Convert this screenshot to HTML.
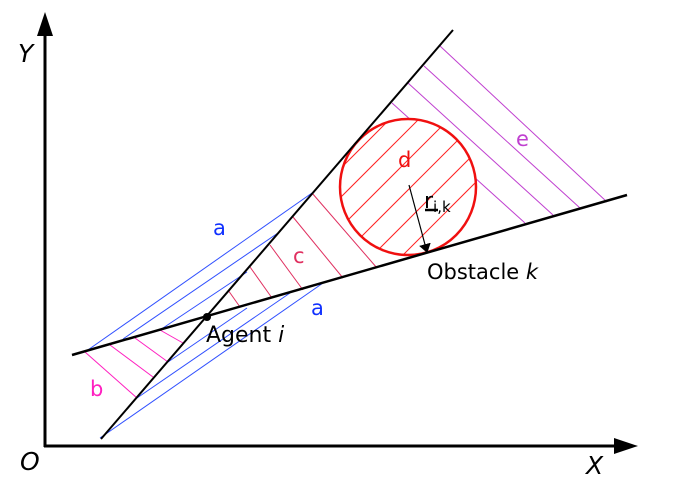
<!DOCTYPE html>
<html><head><meta charset="utf-8"><style>body{margin:0;background:#fff}svg{display:block;font-family:"DejaVu Sans","Liberation Sans",sans-serif}</style></head>
<body>
<svg width="684" height="493" viewBox="0 0 684 493">
<defs>
<clipPath id="cc"><circle cx="408" cy="187" r="68"/></clipPath>
<marker id="ah" markerWidth="10" markerHeight="12" refX="8" refY="6" orient="auto" markerUnits="userSpaceOnUse"><path d="M0,0 L9,6 L0,12 Z" fill="#000"/></marker>
</defs>
<g stroke="#c040d0" stroke-width="1">
<line x1="392" y1="103" x2="525" y2="223"/><line x1="408" y1="83" x2="553" y2="215"/><line x1="424" y1="66" x2="580" y2="208"/><line x1="440" y1="46" x2="607" y2="202"/>
</g>
<g stroke="#3050ff" stroke-width="1">
<line x1="85" y1="352" x2="312" y2="193"/><line x1="123" y1="339" x2="278" y2="233"/><line x1="160" y1="330" x2="247" y2="272"/>
<line x1="100" y1="438" x2="323" y2="283"/><line x1="137" y1="398" x2="290" y2="293"/><line x1="168" y1="362" x2="247" y2="308"/>
</g>
<g stroke="#ff20c0" stroke-width="1">
<line x1="85" y1="352" x2="137" y2="398"/><line x1="110" y1="345" x2="153" y2="377"/><line x1="135" y1="338" x2="168" y2="362"/><line x1="160" y1="330" x2="183" y2="343"/>
</g>
<g stroke="#e03060" stroke-width="1">
<line x1="228" y1="290" x2="240" y2="307"/><line x1="250" y1="267" x2="272" y2="298"/><line x1="270" y1="245" x2="303" y2="290"/><line x1="293" y1="217" x2="343" y2="278"/><line x1="312" y1="193" x2="377" y2="268"/>
</g>
<circle cx="408" cy="187" r="68" fill="#fff"/>
<g clip-path="url(#cc)" stroke="#ff2020" stroke-width="1">
<line x1="300" y1="180" x2="420" y2="60"/><line x1="300" y1="209" x2="445" y2="64"/><line x1="305" y1="233" x2="470" y2="68"/><line x1="318" y1="250" x2="490" y2="78"/><line x1="333" y1="265" x2="508" y2="90"/><line x1="350" y1="278" x2="525" y2="103"/><line x1="368" y1="290" x2="543" y2="115"/>
</g>
<circle cx="408" cy="187" r="68" fill="none" stroke="#f01010" stroke-width="2.5"/>
<line x1="101" y1="439" x2="453" y2="30" stroke="#000" stroke-width="2"/>
<line x1="72" y1="355" x2="627" y2="195" stroke="#000" stroke-width="2.5"/>
<line x1="409" y1="185" x2="427" y2="252" stroke="#000" stroke-width="1.2" marker-end="url(#ah)"/>
<circle cx="207" cy="317" r="4" fill="#000"/>
<line x1="45" y1="447" x2="45" y2="22" stroke="#000" stroke-width="3"/>
<path d="M45,12 L37,36 L53,36 Z" fill="#000"/>
<line x1="44" y1="446" x2="626" y2="446" stroke="#000" stroke-width="3"/>
<path d="M638,446 L614,438 L614,454 Z" fill="#000"/>
<g font-size="21">
<text x="18" y="62" font-size="25" font-style="italic">Y</text>
<text x="20" y="470" font-size="25" font-style="italic">O</text>
<text x="586" y="474" font-size="25" font-style="italic">X</text>
<text x="213" y="235" fill="#1030ff">a</text>
<text x="311" y="315" fill="#1030ff">a</text>
<text x="90" y="396" fill="#ff20c0">b</text>
<text x="293" y="263" fill="#e03060">c</text>
<text x="398" y="167" fill="#f01010">d</text>
<text x="516" y="146" fill="#c040d0">e</text>
<text x="206" y="342" font-size="22">Agent <tspan font-style="italic">i</tspan></text>
<text x="427" y="279" font-size="21">Obstacle <tspan font-style="italic">k</tspan></text>
<text x="424" y="208" font-size="22">r<tspan font-size="15" dy="4">i,k</tspan></text>
</g>
<line x1="425" y1="210" x2="438" y2="210" stroke="#000" stroke-width="2.5"/>
</svg>
</body></html>
